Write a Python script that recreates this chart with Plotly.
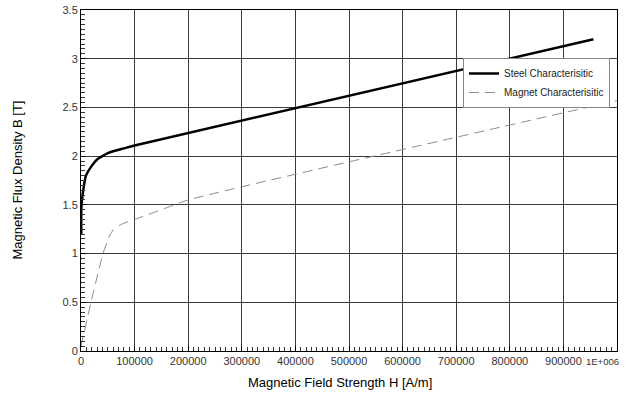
import plotly.graph_objects as go

steel_h = [500, 1000, 5600, 9300, 20000, 30000, 40000, 50000, 60000, 80000, 100000, 956000]
steel_b = [1.2, 1.5, 1.7, 1.8, 1.9, 1.965, 2.0, 2.03, 2.05, 2.08, 2.11, 3.2]

magnet_h = [0, 18700, 41000, 54000, 60000, 75000, 100000, 150000, 200000, 1000000]
magnet_b = [0.05, 0.5, 1.0, 1.19, 1.24, 1.3, 1.35, 1.45, 1.55, 2.57]

x_tickvals = [0, 100000, 200000, 300000, 400000, 500000, 600000, 700000, 800000, 900000, 1000000]
x_ticktext = ["0", "100000", "200000", "300000", "400000", "500000", "600000", "700000", "800000", "900000", ""]
x_last_label = "1E+006"
y_tickvals = [0, 0.5, 1, 1.5, 2, 2.5, 3, 3.5]
y_ticktext = ["0", "0.5", "1", "1.5", "2", "2.5", "3", "3.5"]

FONT = "Liberation Sans, Arial, sans-serif"

fig = go.Figure()
fig.add_trace(go.Scatter(x=steel_h, y=steel_b, mode="lines", name="Steel Characterisitic",
                         line=dict(color="black", width=2.5, shape="spline", smoothing=0.8)))
fig.add_trace(go.Scatter(x=magnet_h, y=magnet_b, mode="lines", name="Magnet Characterisitic",
                         line=dict(color="#8a8a8a", width=1, dash="10px,6px", shape="spline", smoothing=0.5)))

axis_common = dict(
    showline=True, linecolor="black", linewidth=1, mirror=True,
    showgrid=True, gridcolor="#3a3a3a", gridwidth=1,
    ticks="inside", ticklen=5, tickcolor="black",
    zeroline=False, automargin=False,
    tickfont=dict(family=FONT, size=11, color="#333333"),
)

fig.update_xaxes(**axis_common, range=[0, 1000000], tickvals=x_tickvals, ticktext=x_ticktext,
                 minor=dict(dtick=10000, tick0=0, ticks="inside", ticklen=4, tickcolor="#333333", showgrid=False))
fig.update_yaxes(**axis_common, range=[0, 3.5], tickvals=y_tickvals, ticktext=y_ticktext,
                 minor=dict(dtick=0.05, tick0=0, ticks="inside", ticklen=4, tickcolor="#333333", showgrid=False))

fig.add_annotation(text=x_last_label, xref="paper", yref="paper", x=1.0 + 4 / 536, y=0,
                   xanchor="right", yanchor="top", yshift=-3, showarrow=False,
                   font=dict(family=FONT, size=9.5, color="#333333"))
fig.add_annotation(text="Magnetic Field Strength H [A/m]", xref="paper", yref="paper",
                   x=(340 - 81) / 536, y=0, xanchor="center", yanchor="middle", yshift=-31,
                   showarrow=False, font=dict(family=FONT, size=13, color="black"))
fig.add_annotation(text="Magnetic Flux Density B [T]", xref="paper", yref="paper",
                   x=0, y=0.5, xanchor="center", yanchor="middle", xshift=-64, textangle=-90,
                   showarrow=False, font=dict(family=FONT, size=13, color="black"))

fig.update_layout(
    width=626, height=398,
    margin=dict(l=81, r=9, t=10, b=47, autoexpand=False),
    paper_bgcolor="white", plot_bgcolor="white",
    showlegend=True,
    legend=dict(x=(463 - 81) / 536, y=1 - (58 - 10) / 341, xanchor="left", yanchor="top",
                bgcolor="white", bordercolor="#888888", borderwidth=1,
                font=dict(family=FONT, size=10, color="#222222"),
                tracegroupgap=0, itemwidth=30),
)

fig.write_html("out.html", config={"displayModeBar": False},
               post_script="document.body.style.margin='0';document.body.style.overflow='hidden';")
